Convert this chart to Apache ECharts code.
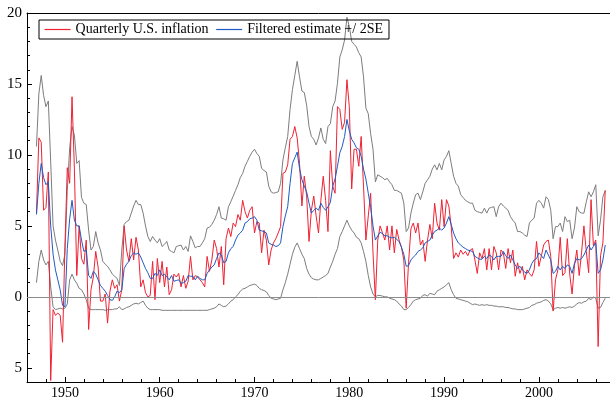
<!DOCTYPE html>
<html><head><meta charset="utf-8">
<script src="https://cdn.jsdelivr.net/npm/echarts@6/dist/echarts.min.js"></script>
<style>html,body{margin:0;padding:0;background:#fff}#c{width:610px;height:401px}</style>
</head><body><div id="c"></div>
<script>
// Quarterly observations, first quarter = 1947.0
const startYear = 1947;
const inflation = [
5.9, 11.2, 10.9, 6.1,
6.3, 8.8, -5.9, -0.9,
-1.3, -1.15, -1.3, -3.2,
3.5, 9.1, 8.0, 14.1,
9.0, 1.5, 5.0, 2.7,
2.3, 4.0, -2.3, 0.5,
1.4, 3.2, 2.1, -0.3,
-0.3, 0.2, -1.85, 0.4,
1.2, 0.6, 0.85, -0.3,
0.5, 5.0, 3.3, 2.5,
4.1, 2.6, 4.2, 3.3,
0.7, 1.2, 0.3, 0.0,
0.1, 2.5, -0.2, 2.7,
1.0, 2.5, 0.7, 2.1,
0.15, 0.5, 1.6, 1.4,
1.65, 0.7, 1.5, 0.6,
1.1, 2.85, 1.2, 1.5,
1.4, 1.2, 1.0, 0.7,
2.85, 1.8, 2.6, 4.0,
3.4, 2.1, 3.55, 0.85,
4.1, 4.85, 4.25, 5.2,
4.95, 5.8, 5.4, 6.8,
6.0, 5.55, 6.1, 6.35,
4.5, 5.3, 5.2, 3.1,
4.7, 4.0, 2.25, 3.3,
3.8, 4.1, 4.5, 4.95,
8.7, 8.8, 9.3, 11.1,
11.3, 12.0, 11.2, 9.4,
6.4, 8.5, 7.1, 3.9,
6.1, 7.1, 5.7, 4.5,
6.8, 8.5, 6.8, 4.6,
10.3, 7.8, 7.3, 13.4,
13.2, 11.8, 12.3, 15.3,
13.4, 7.6, 10.4, 10.4,
9.2, 11.3, 7.8, 4.0,
5.7, 7.3, 3.1, -0.2,
4.0, 5.0, 4.5, 4.0,
5.0, 3.3, 5.0, 3.1,
4.75, 4.0, 3.5, 2.6,
-0.8, 2.4, 4.8, 5.2,
4.5, 5.2, 3.65, 4.0,
2.5, 4.0, 5.1, 4.1,
6.6, 5.2, 4.7, 6.85,
4.95, 6.85, 6.4, 4.95,
2.7, 3.1, 2.8, 3.3,
3.0, 3.2, 2.9, 3.3,
3.4, 2.6, 1.65, 3.1,
2.7, 3.4, 1.9, 3.4,
1.9, 3.55, 3.1, 1.9,
3.3, 3.1, 2.0, 3.4,
2.4, 3.3, 1.45, 2.4,
1.65, 2.15, 1.2, 1.9,
1.65, 1.45, 1.9, 3.9,
2.15, 2.85, 3.65, 3.9,
4.0, 2.85, -1.0, 1.2,
1.9, 4.2, 1.5, 1.7,
4.1, 1.6, 0.2, 2.2,
3.3, 1.5, 3.1, 5.0,
3.2, 1.7, 6.85, 3.6,
4.0, -3.5, 2.9, 3.8,
7.5
];
const filtered = [
5.8, 8.0, 9.4, 8.4,
7.9, 8.1, 5.0, 3.0,
1.9, 1.2, 0.5, -0.6,
-0.7, 3.4, 5.5, 6.8,
5.4, 5.0, 5.0, 4.0,
3.2, 3.3, 1.5, 1.3,
1.8, 1.6, 1.2, 0.8,
0.6, 0.4, 0.1, -0.2,
-0.25, 0.0, 0.4, 0.3,
0.5, 2.0, 2.3, 2.5,
2.9, 3.1, 3.0, 3.1,
2.8, 2.4, 2.0, 1.7,
1.3, 1.3, 1.65, 1.5,
1.9, 1.5, 1.6, 1.4,
1.2, 1.5, 1.1, 1.15,
1.2, 0.95, 1.0, 1.1,
1.5, 1.45, 1.45, 1.2,
1.45, 1.3, 1.2, 1.2,
1.65, 1.9, 2.1, 2.25,
2.7, 3.1, 2.95, 2.4,
2.5, 3.1, 3.4, 3.55,
4.0, 4.35, 4.5, 4.7,
5.2, 5.3, 5.5, 5.55,
5.65, 5.4, 4.7, 4.65,
4.6, 4.5, 3.8, 3.7,
3.65, 3.55, 3.6, 3.8,
4.95, 5.7, 6.35, 8.0,
9.4, 9.8, 10.2, 9.05,
8.25, 7.8, 7.4, 6.6,
5.9, 6.1, 6.25, 6.1,
6.6, 6.3, 6.1, 6.35,
6.65, 7.8, 8.3, 9.2,
10.15, 10.6, 11.3, 12.5,
11.7, 11.1, 10.85, 10.5,
10.4, 9.9, 9.0, 8.3,
7.3, 6.3, 5.0, 4.0,
4.3, 4.55, 4.45, 4.3,
4.3, 4.2, 4.15, 4.2,
4.05, 3.9, 3.5, 3.0,
2.15, 2.2, 2.6, 2.8,
2.95, 3.2, 3.3, 3.45,
3.8, 3.9, 4.0, 4.35,
4.6, 4.7, 4.85, 4.7,
4.85, 5.2, 5.65, 5.1,
4.5, 4.1, 3.8, 3.65,
3.5, 3.4, 3.3, 3.25,
3.2, 2.85, 2.75, 2.65,
2.65, 2.85, 2.7, 2.95,
2.85, 2.6, 2.85, 2.85,
2.85, 3.2, 2.9, 2.7,
2.95, 2.6, 2.25, 2.0,
2.15, 1.9, 1.75, 1.65,
1.9, 2.35, 2.6, 2.7,
3.1, 2.9, 2.7, 3.3,
2.95, 2.6, 1.65, 1.8,
2.15, 1.9, 2.15, 2.0,
2.25, 2.15, 1.65, 2.35,
2.7, 2.6, 2.7, 2.95,
3.3, 3.65, 3.3, 3.55,
3.8, 1.65, 1.9, 2.6,
3.65
];
const upperBand = [
10.6, 14.3, 15.6, 14.2,
13.4, 13.8, 9.5, 5.0,
4.0, 3.3, 2.5, 2.2,
3.0, 7.5, 10.5, 12.0,
11.4, 9.4, 9.6, 7.0,
6.6, 6.5, 4.7, 3.3,
3.55, 4.6, 3.8, 3.3,
2.5, 2.3, 2.15, 1.9,
1.6, 1.45, 1.3, 0.8,
3.3, 5.1, 5.3, 5.4,
5.9, 6.4, 6.8, 6.5,
6.5, 5.9, 5.0, 4.25,
3.9, 4.25, 4.0, 3.8,
4.1, 3.55, 3.7, 3.9,
3.3, 3.2, 3.1, 3.55,
3.6, 3.65, 3.3, 3.55,
3.2, 4.3, 3.9, 3.45,
3.55, 3.55, 3.8, 4.1,
4.85, 4.9, 5.1, 5.4,
5.8, 6.35, 5.55, 5.5,
5.4, 6.35, 6.7, 7.1,
7.5, 7.9, 8.4, 8.7,
9.2, 9.55, 9.9, 10.2,
10.4, 10.1, 9.9, 9.05,
8.9, 8.8, 7.8, 7.4,
7.3, 7.35, 7.4, 8.0,
9.65, 10.5, 11.3, 13.2,
14.6, 15.6, 16.6, 15.5,
14.5, 14.4, 13.5, 12.0,
11.3, 11.1, 10.7, 11.2,
11.9, 11.1, 10.8, 12.0,
12.2, 13.4, 13.8, 15.05,
16.9, 17.4, 18.1, 19.7,
19.05, 18.0, 17.8, 17.6,
17.2, 16.9, 15.5, 13.3,
12.9, 11.5, 10.4, 8.1,
8.6, 8.5, 8.4, 8.25,
8.35, 8.1, 7.9, 7.5,
7.5, 7.4, 7.3, 6.6,
4.6, 4.85, 5.9, 6.6,
7.2, 7.3, 6.85, 7.4,
8.0, 8.25, 8.5, 9.0,
9.3, 8.95, 9.4, 8.95,
9.65, 9.9, 10.3, 9.4,
8.5, 8.0, 7.8, 7.2,
7.0, 6.8, 6.7, 6.6,
6.6, 6.1, 6.0, 5.95,
5.9, 6.25, 5.9, 6.25,
6.3, 6.35, 5.65, 6.35,
6.6, 6.4, 6.25, 6.1,
5.65, 5.4, 5.2, 4.6,
4.6, 4.5, 4.35, 4.25,
5.2, 5.4, 5.55, 6.6,
6.8, 6.6, 6.25, 7.05,
6.85, 6.1, 4.1, 4.95,
4.95, 5.2, 4.6, 5.65,
5.3, 5.4, 4.1, 4.85,
6.35, 6.0, 5.9, 5.9,
6.7, 7.4, 7.05, 7.4,
7.9, 4.3, 5.4, 7.05,
7.5
];
const lowerBand = [
1.0, 2.5, 3.3, 2.6,
2.25, 2.5, 0.7, -0.7,
-0.9, -0.85, -0.8, -0.85,
-0.8, -0.5, 1.2, 1.6,
1.2, 0.95, 0.6, 0.5,
0.2, -0.2, -0.8, -0.9,
-0.9, -0.9, -0.9, -0.9,
-0.9, -0.95, -0.9, -0.9,
-0.9, -0.85, -0.85, -0.7,
-0.9, -0.85, -0.75, -0.7,
-0.6, -0.5, -0.45, -0.5,
-0.4, -0.3, -0.6, -0.8,
-0.9, -0.9, -0.9, -0.9,
-0.9, -0.95, -0.95, -0.95,
-0.95, -0.95, -0.95, -0.95,
-0.95, -0.95, -0.95, -0.95,
-0.95, -0.95, -0.95, -0.95,
-0.95, -0.95, -0.95, -0.95,
-0.95, -0.9, -0.85, -0.8,
-0.7, -0.5, -0.6, -0.7,
-0.65, -0.5, -0.3, -0.2,
0.0, 0.15, 0.4, 0.55,
0.6, 0.7, 0.8, 0.85,
0.9, 0.8, 0.6, 0.5,
0.45, 0.35, 0.1, -0.1,
-0.15, -0.2, -0.15, -0.1,
0.5, 1.0, 1.6, 2.3,
3.0, 3.5, 3.8, 3.4,
3.0, 2.7, 2.0, 1.6,
1.35, 1.25, 1.2, 1.2,
1.3, 1.4, 1.5, 1.65,
2.1, 2.5, 3.0, 3.4,
4.25, 4.6, 5.0, 5.4,
5.0, 4.7, 4.5, 4.2,
4.1, 3.8, 3.2, 2.5,
1.5, 0.7, 0.2, 0.0,
0.1, 0.1, 0.05, 0.0,
0.0, -0.1, -0.15, -0.2,
-0.3, -0.5, -0.65, -0.9,
-0.9, -0.75, -0.55, -0.3,
-0.2, -0.15, -0.1, 0.1,
0.15, 0.05, 0.25, 0.2,
0.15, 0.4, 0.5, 0.6,
0.7, 0.85, 1.0, 0.5,
0.15, -0.1, -0.15, -0.2,
-0.25, -0.3, -0.35, -0.45,
-0.55, -0.5, -0.55, -0.6,
-0.55, -0.6, -0.55, -0.6,
-0.6, -0.65, -0.65, -0.7,
-0.7, -0.7, -0.75, -0.75,
-0.8, -0.85, -0.85, -0.9,
-0.9, -0.9, -0.85, -0.8,
-0.75, -0.6, -0.55, -0.45,
-0.4, -0.35, -0.25, -0.2,
-0.3, -0.5, -0.9, -0.8,
-0.75, -0.8, -0.75, -0.8,
-0.75, -0.7, -0.75, -0.65,
-0.5, -0.4, -0.45, -0.35,
-0.3, -0.1, -0.2, 0.0,
-0.1, -0.8, -0.75, -0.4,
-0.1
];
const xTickYears = [1950, 1960, 1970, 1980, 1990, 2000];
const xMinorYears = [1946, 1948, 1952, 1954, 1956, 1958, 1962, 1964, 1966, 1968, 1972, 1974, 1976, 1978, 1982, 1984, 1986, 1988, 1992, 1994, 1996, 1998, 2002, 2004, 2006];
const yTickValues = [-5, 0, 5, 10, 15, 20];
const yTickLabels = ['5', '0', '5', '10', '15', '20'];
const yMinorValues = [-6,-4,-3,-2,-1,1,2,3,4,6,7,8,9,11,12,13,14,16,17,18,19];
const seriesNames = ['Quarterly U.S. inflation', 'Filtered estimate +/ 2SE'];

const dates = inflation.map((_, i) => startYear + i / 4);
const pairs = arr => arr.map((v, i) => [dates[i], v]);

const FONT = "'Liberation Serif', 'Times New Roman', serif";
const RED = '#ee2233', BLUE = '#1f5bc4', GRAY = '#7d7d7d';
const chart = echarts.init(document.getElementById('c'), null, {renderer: 'canvas'});
const xBase = {type: 'value', min: 1946, max: 2007.5, splitLine: {show: false}};
const yBase = {type: 'value', min: -6, max: 20, splitLine: {show: false}};
chart.setOption({
  animation: false,
  backgroundColor: '#fff',
  textStyle: {fontFamily: FONT},
  grid: {left: 27, right: 0, top: 13, bottom: 19, containLabel: false},
  legend: {
    left: 39, top: 20, orient: 'horizontal',
    data: [
      {name: seriesNames[0], itemStyle: {opacity: 0}, lineStyle: {color: RED, width: 1.2, opacity: 1}},
      {name: seriesNames[1], itemStyle: {opacity: 0}, lineStyle: {color: BLUE, width: 1.2, opacity: 1}}
    ],
    itemWidth: 26, itemHeight: 13, itemGap: 7,
    padding: [2, 6, 2, 5],
    borderColor: '#000', borderWidth: 1, borderRadius: 0,
    backgroundColor: 'rgba(0,0,0,0)',
    textStyle: {fontFamily: FONT, fontSize: 14, color: '#000', lineHeight: 15}
  },
  xAxis: [
    Object.assign({}, xBase, {position: 'bottom',
      axisLine: {show: true, onZero: false, lineStyle: {color: '#000', width: 1}},
      axisTick: {show: true, inside: true, length: 5, customValues: xTickYears, lineStyle: {color: '#000'}},
      axisLabel: {show: true, customValues: xTickYears, color: '#000', fontSize: 14, fontFamily: FONT, margin: 4, formatter: v => String(v)}}),
    Object.assign({}, xBase, {position: 'bottom',
      axisLine: {show: false, onZero: false},
      axisTick: {show: true, inside: true, length: 3, customValues: xMinorYears, lineStyle: {color: '#000'}},
      axisLabel: {show: false}}),
    Object.assign({}, xBase, {position: 'top',
      axisLine: {show: true, onZero: false, lineStyle: {color: '#000', width: 1}},
      axisTick: {show: false}, axisLabel: {show: false}})
  ],
  yAxis: [
    Object.assign({}, yBase, {position: 'left',
      axisLine: {show: true, onZero: false, lineStyle: {color: '#000', width: 1}},
      axisTick: {show: true, inside: true, length: 5, customValues: yTickValues, lineStyle: {color: '#000'}},
      axisLabel: {show: true, customValues: yTickValues, color: '#000', fontSize: 15, fontFamily: FONT, margin: 5,
        formatter: v => { const i = yTickValues.indexOf(Math.round(v)); return i >= 0 ? yTickLabels[i] : ''; }}}),
    Object.assign({}, yBase, {position: 'left',
      axisLine: {show: false, onZero: false},
      axisTick: {show: true, inside: true, length: 3, customValues: yMinorValues, lineStyle: {color: '#000'}},
      axisLabel: {show: false}})
  ],
  series: [
    {name: 'upper', type: 'line', data: pairs(upperBand), symbol: 'none', silent: true, z: 2,
      lineStyle: {color: GRAY, width: 1}, itemStyle: {color: GRAY},
      markLine: {silent: true, symbol: ['none', 'none'], label: {show: false},
        lineStyle: {color: '#8c8c8c', type: 'solid', width: 1}, data: [{yAxis: 0}]}},
    {name: 'lower', type: 'line', data: pairs(lowerBand), symbol: 'none', silent: true, z: 2,
      lineStyle: {color: GRAY, width: 1}, itemStyle: {color: GRAY}},
    {name: seriesNames[0], type: 'line', data: pairs(inflation), symbol: 'none', z: 3,
      lineStyle: {color: RED, width: 1}, itemStyle: {color: RED}},
    {name: seriesNames[1], type: 'line', data: pairs(filtered), symbol: 'none', z: 4,
      lineStyle: {color: BLUE, width: 1}, itemStyle: {color: BLUE}}
  ]
});
</script></body></html>
